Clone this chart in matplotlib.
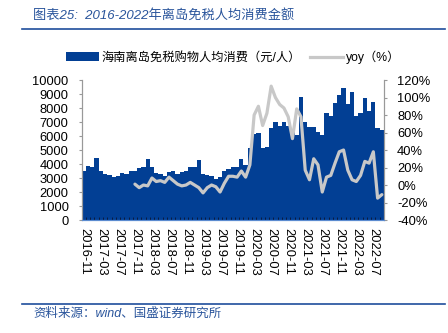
import matplotlib
matplotlib.use('Agg')
import matplotlib.pyplot as plt
from matplotlib.lines import Line2D
from matplotlib.patches import Patch
import numpy as np

plt.rcParams['font.family'] = ['Liberation Sans', 'Noto Sans CJK SC']

# 月份：2016-11 至 2022-09
months = ['2016-11', '2016-12'] + \
    [f'{y}-{m:02d}' for y in range(2017, 2022) for m in range(1, 13)] + \
    [f'2022-{m:02d}' for m in range(1, 10)]

# 海南离岛免税购物人均消费（元/人）
spend = [3520, 3860, 3810, 4400, 3520, 3290, 3190, 3050, 3140, 3360,
         3260, 3500, 3500, 3710, 3760, 4360, 3760, 3380, 3290, 3140,
         3430, 3480, 3290, 3450, 3520, 3760, 3760, 4290, 3290, 3210,
         3140, 2930, 3050, 3520, 3620, 3760, 3760, 4360, 3950, 5150,
         6150, 6220, 5150, 5180, 6550, 6970, 6720, 6970, 6700, 6430,
         6100, 8810, 7020, 6670, 6670, 6310, 6070, 7670, 7430, 8330,
         8930, 9400, 8290, 9170, 7430, 7620, 8690, 7810, 8450, 6550,
         6430]

# yoy（%），从 2017-11 开始
yoy = [np.nan] * 12 + [
    1, -3, 0, -1, 8, 4, 5, 3, 9, 5,
    1, -1, 0, 3, 0, -3, -9, -3, 0, -2,
    -8, 2, 10, 10, 9, 16, 9, 23, 80, 90,
    68, 82, 113, 100, 92, 88, 78, 53, 87, 78,
    17, 6, 30, 23, -8, 9, 11, 25, 38, 40,
    17, 6, 4, 11, 27, 25, 38, -15, -11]

tick_labels = months[::4]

bar_color = '#023F94'
line_color = '#C8C8C8'
title_color = '#2A559C'

fig = plt.figure(figsize=(4.48, 3.33), dpi=100)
ax = fig.add_axes([0.1824, 0.3393, 0.6747, 0.4204])
x = np.arange(len(months))
ax.bar(x, spend, width=1.0, color=bar_color, linewidth=0)
ax.set_xlim(-0.5, len(months) - 0.5)
ax.set_ylim(0, 10000)
ax.set_yticks(range(0, 10001, 1000))
ax.set_xticks(x[::4])
ax.set_xticklabels(tick_labels, rotation=270, fontsize=9.3)
ax.set_xticks(np.arange(-0.5, len(months), 1), minor=True)
ax.tick_params(axis='x', which='major', length=0, pad=6)
ax.tick_params(axis='x', which='minor', direction='in', length=2.5,
               color='#0A1A40', width=0.7)
ax.tick_params(axis='y', length=2.5, color='#999999', pad=7, labelsize=9.3)

ax2 = ax.twinx()
ax2.plot(x, yoy, color=line_color, lw=2.3, solid_capstyle='round')
ax2.set_ylim(-40, 120)
ax2.set_yticks(range(-40, 121, 20))
ax2.set_yticklabels([f'{v}%' for v in range(-40, 121, 20)])
ax2.tick_params(axis='y', length=2.5, color='#999999', pad=7, labelsize=9.3)

for a in (ax, ax2):
    a.spines['top'].set_visible(False)
    a.spines['left'].set_color('#999999')
    a.spines['right'].set_color('#999999')
    a.spines['bottom'].set_color('#5B8BD0')
    a.spines['left'].set_linewidth(0.8)
    a.spines['right'].set_linewidth(0.8)

# 标题与来源
fig.text(33 / 448, 1 - 15 / 333, '图表25:  2016-2022年离岛免税人均消费金额',
         fontsize=9.5, color=title_color, style='italic', va='center', ha='left')
fig.add_artist(Line2D([22 / 448, 445 / 448], [1 - 29 / 333, 1 - 29 / 333],
                      color='#1F4E9C', lw=1.2, transform=fig.transFigure))
fig.add_artist(Line2D([22 / 448, 445 / 448], [1 - 304 / 333, 1 - 304 / 333],
                      color='#1F4E9C', lw=1.2, transform=fig.transFigure))
fig.text(33 / 448, 1 - 314 / 333, '资料来源：wind、国盛证券研究所',
         fontsize=9, color=title_color, style='italic', va='center', ha='left')

handles = [Patch(facecolor=bar_color, edgecolor='none'),
           Line2D([], [], color=line_color, lw=2.3)]
fig.legend(handles, ['海南离岛免税购物人均消费（元/人）', 'yoy（%）'],
           loc='center', bbox_to_anchor=(0.52, 1 - 57 / 333), ncol=2,
           frameon=False, fontsize=8.8, handlelength=2.7, handleheight=0.65,
           handletextpad=0.2, columnspacing=0.8)

fig.savefig('out.png', dpi=100)
